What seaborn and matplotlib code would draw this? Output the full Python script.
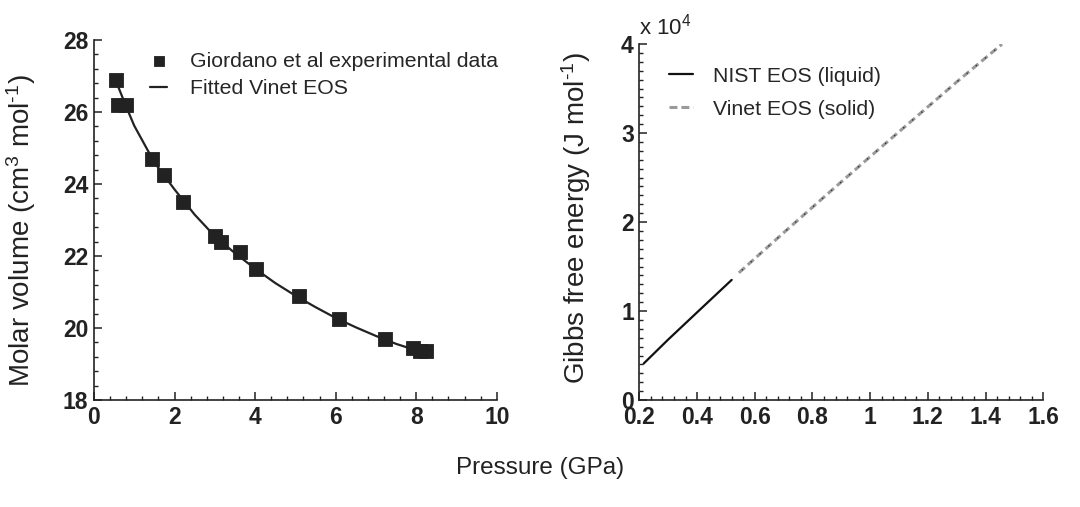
import matplotlib
matplotlib.use("Agg")
import matplotlib.pyplot as plt
from matplotlib.ticker import MultipleLocator, FuncFormatter
import seaborn as sns

# Molar volume vs pressure: Giordano et al measurements
exp_pressure = [0.55, 0.60, 0.79, 1.43, 1.74, 2.20, 3.00, 3.15, 3.62, 4.02,
                5.09, 6.09, 7.22, 7.91, 8.10, 8.25]
exp_volume = [26.9, 26.2, 26.2, 24.7, 24.25, 23.5, 22.55, 22.4, 22.1, 21.65,
              20.9, 20.25, 19.7, 19.45, 19.35, 19.35]

# Fitted Vinet EOS curve
fit_pressure = [0.55, 0.8, 1.0, 1.5, 2.0, 2.5, 3.0, 3.5, 4.0, 4.5, 5.0,
                5.5, 6.0, 6.5, 7.0, 7.5, 8.0, 8.25]
fit_volume = [26.85, 26.15, 25.62, 24.6, 23.85, 23.15, 22.55, 22.08, 21.65,
              21.25, 20.9, 20.58, 20.28, 20.02, 19.78, 19.56, 19.38, 19.3]

# Gibbs free energy (J/mol) vs pressure (GPa)
liq_pressure = [0.215, 0.3, 0.4, 0.52]
liq_gibbs = [4100, 6800, 9850, 13500]
sol_pressure = [0.545, 0.7, 0.85, 1.0, 1.15, 1.3, 1.457]
sol_gibbs = [14300, 18800, 23100, 27350, 31550, 35750, 40000]

sns.set_theme(style="white")
plt.rcParams["font.family"] = ["Liberation Sans", "DejaVu Sans"]
plt.rcParams["mathtext.fontset"] = "custom"
plt.rcParams["mathtext.rm"] = "Liberation Sans"
plt.rcParams["mathtext.it"] = "Liberation Sans:italic"
plt.rcParams["mathtext.bf"] = "Liberation Sans:bold"

ink = "#222222"
fig = plt.figure(figsize=(10.8, 5.07), dpi=100)
ax1 = fig.add_axes([0.087, 0.211, 0.373, 0.710])
ax2 = fig.add_axes([0.592, 0.211, 0.374, 0.702])

# ---- left panel: equation of state fit ----
sns.scatterplot(x=exp_pressure, y=exp_volume, marker="s", s=90, color=ink,
                edgecolor=ink, linewidth=0.6, ax=ax1, zorder=3,
                label="Giordano et al experimental data")
sns.lineplot(x=fit_pressure, y=fit_volume, color=ink, lw=1.6, ax=ax1,
             sort=False, estimator=None, label="Fitted Vinet EOS", zorder=2)
ax1.set_xlim(0, 10)
ax1.set_ylim(18, 28)
ax1.xaxis.set_major_locator(MultipleLocator(2))
ax1.xaxis.set_minor_locator(MultipleLocator(0.4))
ax1.yaxis.set_major_locator(MultipleLocator(2))
ax1.yaxis.set_minor_locator(MultipleLocator(0.4))
ax1.set_ylabel(r"Molar volume (cm$^{3}$ mol$^{\text{-}1}$)", fontsize=20, color=ink)
ax1.yaxis.set_label_coords(-0.139, 0.47)
ax1.legend(loc="upper left", bbox_to_anchor=(0.14, 0.968), frameon=False,
           fontsize=15.3, handlelength=0.8, handletextpad=1.05,
           borderpad=0, borderaxespad=0, labelspacing=0.4, markerscale=0.75)

# ---- right panel: Gibbs free energy ----
sns.lineplot(x=liq_pressure, y=liq_gibbs, color="#111111", lw=1.6, ax=ax2,
             sort=False, estimator=None, label="NIST EOS (liquid)")
sns.lineplot(x=sol_pressure, y=sol_gibbs, color="#9a9a9a", lw=2.2, ax=ax2,
             sort=False, estimator=None, label="Vinet EOS (solid)")
ax2.lines[-1].set_dashes((2.6, 1.3))
sns.lineplot(x=sol_pressure, y=sol_gibbs, color="#333333", lw=1.0, ax=ax2,
             sort=False, estimator=None, legend=False)
ax2.lines[-1].set_linestyle((5.8, (1.0, 7.6)))
ax2.set_xlim(0.2, 1.6)
ax2.set_ylim(0, 40000)
ax2.xaxis.set_major_locator(MultipleLocator(0.2))
ax2.xaxis.set_minor_locator(MultipleLocator(0.04))
ax2.yaxis.set_major_locator(MultipleLocator(10000))
ax2.yaxis.set_minor_locator(MultipleLocator(1000))
ax2.xaxis.set_major_formatter(FuncFormatter(lambda v, p: f"{v:.1f}".rstrip("0").rstrip(".") if abs(v - round(v)) > 1e-9 else f"{int(round(v))}"))
ax2.yaxis.set_major_formatter(FuncFormatter(lambda v, p: f"{v / 1e4:g}"))
ax2.text(0.0, 1.012, r"x 10$^{4}$", transform=ax2.transAxes, fontsize=16,
         color=ink, ha="left", va="bottom")
ax2.set_ylabel(r"Gibbs free energy (J mol$^{\text{-}1}$)", fontsize=20, color=ink)
ax2.yaxis.set_label_coords(-0.114, 0.51)
ax2.legend(loc="upper left", bbox_to_anchor=(0.073, 0.936), frameon=False,
           fontsize=15.3, handlelength=1.15, handletextpad=0.95,
           borderpad=0, borderaxespad=0, labelspacing=0.66)

for ax in (ax1, ax2):
    for side in ("top", "right"):
        ax.spines[side].set_visible(False)
    for side in ("left", "bottom"):
        ax.spines[side].set_color(ink)
        ax.spines[side].set_linewidth(1.2)
    ax.tick_params(which="major", direction="in", length=5.5, width=1.1,
                   color=ink, labelsize=16.5, labelcolor=ink, pad=4)
    ax.tick_params(which="minor", direction="in", length=2.8, width=1.0,
                   color=ink)
    ax.tick_params(axis="both", which="both", left=True, bottom=True)
    for lab in ax.get_xticklabels() + ax.get_yticklabels():
        lab.set_fontweight("bold")

fig.text(0.5, 0.077, "Pressure (GPa)", ha="center", va="center",
         fontsize=17.5, color=ink)

fig.savefig("out.png", dpi=100, facecolor="white")
